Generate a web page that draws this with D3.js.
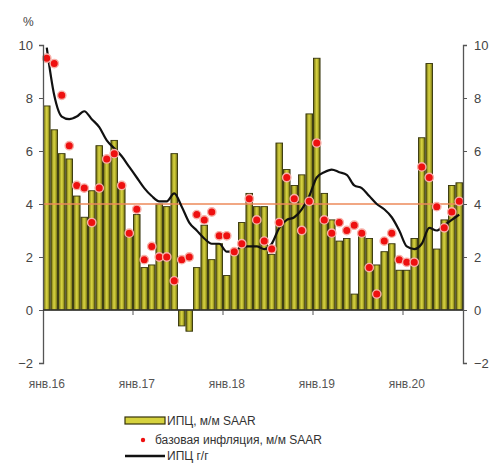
<!DOCTYPE html>
<html>
<head>
<meta charset="utf-8">
<script src="https://cdn.jsdelivr.net/npm/d3@7"></script>
<style>
  body { margin: 0; background: #fff; }
  text { font-family: "Liberation Sans", Arial, sans-serif; }
</style>
</head>
<body>
<div id="chart"></div>
<script>
// monthly data, Jan 2016 .. Aug 2020
const months = d3.range(56).map(i => new Date(2016, i, 1));

// CPI m/m SAAR (bars)
const cpiMM = [
  7.7, 6.8, 5.9, 5.7, 4.3, 3.5, 4.5, 6.2, 5.8, 6.4, 4.6, 2.9,
  3.6, 1.6, 1.7, 4.0, 3.9, 5.9, -0.6, -0.8, 1.6, 3.2, 1.9, 2.5,
  1.3, 2.1, 3.3, 4.4, 3.9, 3.9, 2.1, 6.3, 5.3, 4.7, 5.1, 7.4,
  9.5, 4.4, 3.4, 2.6, 2.7, 0.6, 2.8, 2.7, 1.7, 2.2, 2.5, 1.5,
  1.5, 2.7, 6.5, 9.3, 2.3, 3.4, 4.7, 4.8
];

// core inflation m/m SAAR (dots)
const coreMM = [
  9.5, 9.3, 8.1, 6.2, 4.7, 4.6, 3.3, 4.6, 5.7, 5.9, 4.7, 2.9,
  3.8, 1.9, 2.4, 2.0, 2.0, 1.1, 1.9, 2.0, 3.6, 3.4, 3.7, 2.8,
  2.8, 2.2, 2.5, 4.2, 3.4, 2.6, 2.3, 3.3, 5.0, 4.2, 3.0, 4.1,
  6.3, 3.4, 2.9, 3.3, 3.0, 3.2, 2.9, 1.6, 0.6, 2.6, 2.9, 1.9,
  1.8, 1.8, 5.4, 5.0, 3.9, 3.1, 3.7, 4.1
];

// CPI y/y (line)
const cpiYY = [
  9.9, 8.1, 7.3, 7.2, 7.3, 7.5, 7.2, 6.9, 6.4, 6.1, 5.8, 5.4,
  5.0, 4.6, 4.3, 4.1, 4.1, 4.4, 3.9, 3.3, 3.0, 2.7, 2.5, 2.5,
  2.2, 2.2, 2.4, 2.4, 2.4, 2.3, 2.5, 3.1, 3.4, 3.5, 3.8, 4.3,
  5.0, 5.2, 5.3, 5.2, 5.1, 4.7, 4.6, 4.3, 4.0, 3.8, 3.5, 3.0,
  2.4, 2.3, 2.5, 3.1, 3.0, 3.2, 3.4, 3.6
];

const target = 4;
const yTicks = [-2, 0, 2, 4, 6, 8, 10];
const xTickLabels = ["янв.16", "янв.17", "янв.18", "янв.19", "янв.20"];

const width = 493, height = 464;
const plotLeft = 43, plotRight = 463, plotTop = 45, plotBottom = 363;

const svg = d3.select("#chart").append("svg")
  .attr("width", width)
  .attr("height", height);

const x = d3.scaleBand()
  .domain(d3.range(months.length))
  .range([plotLeft, plotRight])
  .paddingInner(0.12)
  .paddingOuter(0.06);

const y = d3.scaleLinear()
  .domain([-2, 10])
  .range([plotBottom, plotTop]);

const step = (plotRight - plotLeft) / months.length;
const cx = i => plotLeft + step * i + step / 2;

// bar gradient
const defs = svg.append("defs");
const grad = defs.append("linearGradient")
  .attr("id", "barGrad")
  .attr("x1", "0").attr("x2", "1").attr("y1", "0").attr("y2", "0");
grad.append("stop").attr("offset", "0%").attr("stop-color", "#6a6710");
grad.append("stop").attr("offset", "45%").attr("stop-color", "#d4d040");
grad.append("stop").attr("offset", "60%").attr("stop-color", "#c9c536");
grad.append("stop").attr("offset", "100%").attr("stop-color", "#6a6710");

// bars
svg.append("g").selectAll("rect")
  .data(cpiMM)
  .enter()
  .append("rect")
  .attr("x", (d, i) => x(i))
  .attr("width", x.bandwidth())
  .attr("y", d => y(Math.max(0, d)))
  .attr("height", d => Math.abs(y(d) - y(0)))
  .attr("fill", "url(#barGrad)")
  .attr("stroke", "#34330a")
  .attr("stroke-width", 0.9);

// target line
svg.append("line")
  .attr("x1", plotLeft).attr("x2", plotRight)
  .attr("y1", y(target)).attr("y2", y(target))
  .attr("stroke", "#ec8a5a")
  .attr("stroke-width", 1.6);

// y/y line
const line = d3.line()
  .x((d, i) => cx(i))
  .y(d => y(d))
  .curve(d3.curveMonotoneX);

svg.append("path")
  .datum(cpiYY)
  .attr("d", line)
  .attr("fill", "none")
  .attr("stroke", "#111")
  .attr("stroke-width", 2.2);

// core dots
svg.append("g").selectAll("circle")
  .data(coreMM)
  .enter()
  .append("circle")
  .attr("cx", (d, i) => cx(i))
  .attr("cy", d => y(d))
  .attr("r", 4.2)
  .attr("fill", "#ee1010")
  .attr("stroke", "#f7b0a8")
  .attr("stroke-width", 1.4);

// axes
const axisColor = "#555";
const leftAxis = svg.append("g")
  .attr("transform", `translate(${plotLeft},0)`)
  .call(d3.axisLeft(y).tickValues(yTicks).tickSize(4).tickPadding(6).tickFormat(d3.format("d")));
const rightAxis = svg.append("g")
  .attr("transform", `translate(${plotRight},0)`)
  .call(d3.axisRight(y).tickValues(yTicks).tickSize(4).tickPadding(7).tickFormat(d3.format("d")));

[leftAxis, rightAxis].forEach(a => {
  a.select(".domain").attr("stroke", axisColor).attr("stroke-width", 1.3);
  a.selectAll(".tick line").attr("stroke", axisColor);
  a.selectAll(".tick text").attr("fill", "#444").style("font-size", "13px");
});

// zero axis with year ticks
const yearIdx = [0, 12, 24, 36, 48];
svg.append("line")
  .attr("x1", plotLeft).attr("x2", plotRight)
  .attr("y1", y(0)).attr("y2", y(0))
  .attr("stroke", "#333")
  .attr("stroke-width", 1.3);

svg.append("g").selectAll("line")
  .data(yearIdx.slice(1))
  .enter()
  .append("line")
  .attr("x1", d => plotLeft + step * d).attr("x2", d => plotLeft + step * d)
  .attr("y1", y(0)).attr("y2", y(0) + 5)
  .attr("stroke", "#555");

svg.append("g").selectAll("text")
  .data(xTickLabels)
  .enter()
  .append("text")
  .attr("x", (d, i) => cx(yearIdx[i]))
  .attr("y", 388)
  .attr("text-anchor", "middle")
  .attr("fill", "#555")
  .style("font-size", "12px")
  .text(d => d);

svg.append("text")
  .attr("x", 23).attr("y", 26)
  .attr("fill", "#444")
  .style("font-size", "12px")
  .text("%");

// legend
const lg = svg.append("g");
lg.append("rect")
  .attr("x", 125).attr("y", 417).attr("width", 40).attr("height", 7)
  .attr("fill", "#d6d23e").attr("stroke", "#34330a").attr("stroke-width", 1.2);
lg.append("text").attr("x", 167).attr("y", 425)
  .attr("fill", "#333").style("font-size", "12px").text("ИПЦ, м/м SAAR");

lg.append("circle")
  .attr("cx", 143).attr("cy", 440).attr("r", 2.2).attr("fill", "#ee1010");
lg.append("text").attr("x", 155).attr("y", 444)
  .attr("fill", "#333").style("font-size", "12px").text("базовая инфляция, м/м SAAR");

lg.append("line")
  .attr("x1", 125).attr("x2", 165).attr("y1", 456).attr("y2", 456)
  .attr("stroke", "#111").attr("stroke-width", 2.5);
lg.append("text").attr("x", 167).attr("y", 460)
  .attr("fill", "#333").style("font-size", "12px").text("ИПЦ г/г");
</script>
</body>
</html>
